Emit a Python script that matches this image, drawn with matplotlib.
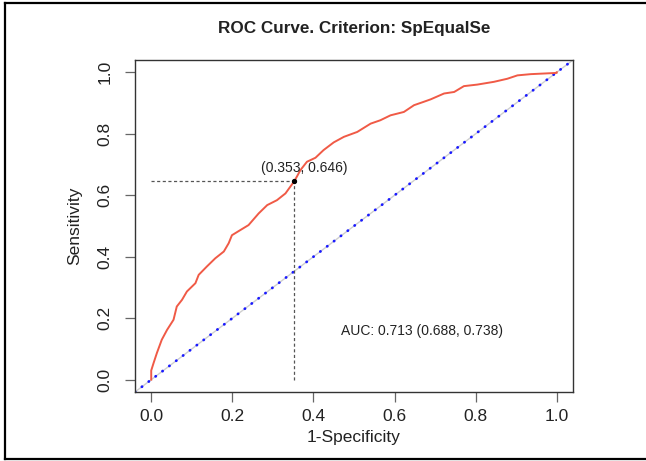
import matplotlib
matplotlib.use("Agg")
import matplotlib.pyplot as plt
from matplotlib.lines import Line2D

plt.rcParams['font.family'] = ['Liberation Sans', 'DejaVu Sans']

# ROC curve points (1-Specificity, Sensitivity)
fpr = [0.000, 0.000, 0.006, 0.014, 0.026, 0.039, 0.055, 0.063, 0.076, 0.088,
       0.109, 0.117, 0.137, 0.158, 0.179, 0.191, 0.199, 0.220, 0.240, 0.265,
       0.286, 0.310, 0.331, 0.343, 0.353, 0.368, 0.384, 0.405, 0.425, 0.450,
       0.475, 0.508, 0.541, 0.565, 0.590, 0.623, 0.648, 0.672, 0.689, 0.722,
       0.747, 0.771, 0.804, 0.845, 0.878, 0.903, 0.936, 1.000, 1.000]
tpr = [0.000, 0.030, 0.055, 0.087, 0.130, 0.162, 0.195, 0.238, 0.260, 0.287,
       0.314, 0.341, 0.368, 0.395, 0.417, 0.444, 0.470, 0.487, 0.503, 0.541,
       0.568, 0.584, 0.606, 0.628, 0.646, 0.682, 0.709, 0.722, 0.747, 0.772,
       0.790, 0.806, 0.833, 0.844, 0.860, 0.871, 0.893, 0.904, 0.912, 0.931,
       0.936, 0.955, 0.960, 0.969, 0.979, 0.990, 0.994, 0.998, 1.000]

cut_x = 0.353
cut_y = 0.646
auc_text = "AUC: 0.713 (0.688, 0.738)"
title = "ROC Curve. Criterion: SpEqualSe"
ticks = [0.0, 0.2, 0.4, 0.6, 0.8, 1.0]
tick_labels = ["0.0", "0.2", "0.4", "0.6", "0.8", "1.0"]

W, H = 646, 461
fig = plt.figure(figsize=(W / 100, H / 100), dpi=100)
ax = fig.add_axes([135 / W, 1 - 392 / H, (573 - 135) / W, (392 - 60) / H])

ax.set_xlim(-0.04, 1.04)
ax.set_ylim(-0.04, 1.04)

# diagonal reference (gray line with blue dots)
ax.plot([-0.04, 1.04], [-0.04, 1.04], color='#cfcfcf', lw=1.0, zorder=1)
ax.plot([-0.04, 1.04], [-0.04, 1.04], color='#1a1aff', lw=2.0,
        linestyle=(0, (0.1, 3.0)), dash_capstyle='round', zorder=2)

# ROC curve
ax.plot(fpr, tpr, color='#F05A46', lw=1.4, zorder=3)

# cut point with dashed guides
ax.plot([0, cut_x], [cut_y, cut_y], color='#555555', lw=0.9,
        linestyle=(0, (2.5, 2)), zorder=4)
ax.plot([cut_x, cut_x], [0, cut_y], color='#555555', lw=0.9,
        linestyle=(0, (2.5, 2)), zorder=4)
ax.plot([cut_x], [cut_y], marker='o', color='black', ms=2.8, zorder=5)
ax.text(cut_x + 0.025, cut_y + 0.02, f"({cut_x:.3f}, {cut_y:.3f})",
        ha='center', va='bottom', fontsize=10, color='#222222')

ax.text(0.667, 0.16, auc_text, ha='center', va='center', fontsize=10,
        color='#222222')

ax.set_xticks(ticks)
ax.set_xticklabels(tick_labels)
ax.set_yticks(ticks)
ax.set_yticklabels(tick_labels, rotation=90, va='center')
ax.tick_params(axis='both', direction='out', length=7, width=0.9,
               color='#666666', labelsize=12.5, labelcolor='#222222')
ax.tick_params(axis='x', pad=5)
ax.tick_params(axis='y', pad=9)
for s in ax.spines.values():
    s.set_color('#333333')
    s.set_linewidth(1.0)

fig.text(135 / W + (573 - 135) / W / 2, 1 - 28 / H, title, ha='center',
         va='center', fontsize=12.3, fontweight='bold', color='#222222')
fig.text(354 / W, 1 - 437 / H, "1-Specificity", ha='center', va='center',
         fontsize=12.5, color='#222222')
fig.text(75 / W, 1 - 226 / H, "Sensitivity", ha='center', va='center',
         rotation=90, fontsize=12.5, color='#222222')

# outer frame
for xs, ys in [([5, 5], [3, 459]), ([5, 646], [3, 3]), ([5, 646], [459, 459])]:
    fig.add_artist(Line2D([x / W for x in xs], [1 - y / H for y in ys],
                          color='black', lw=1.6))

fig.savefig("out.png", dpi=100)
